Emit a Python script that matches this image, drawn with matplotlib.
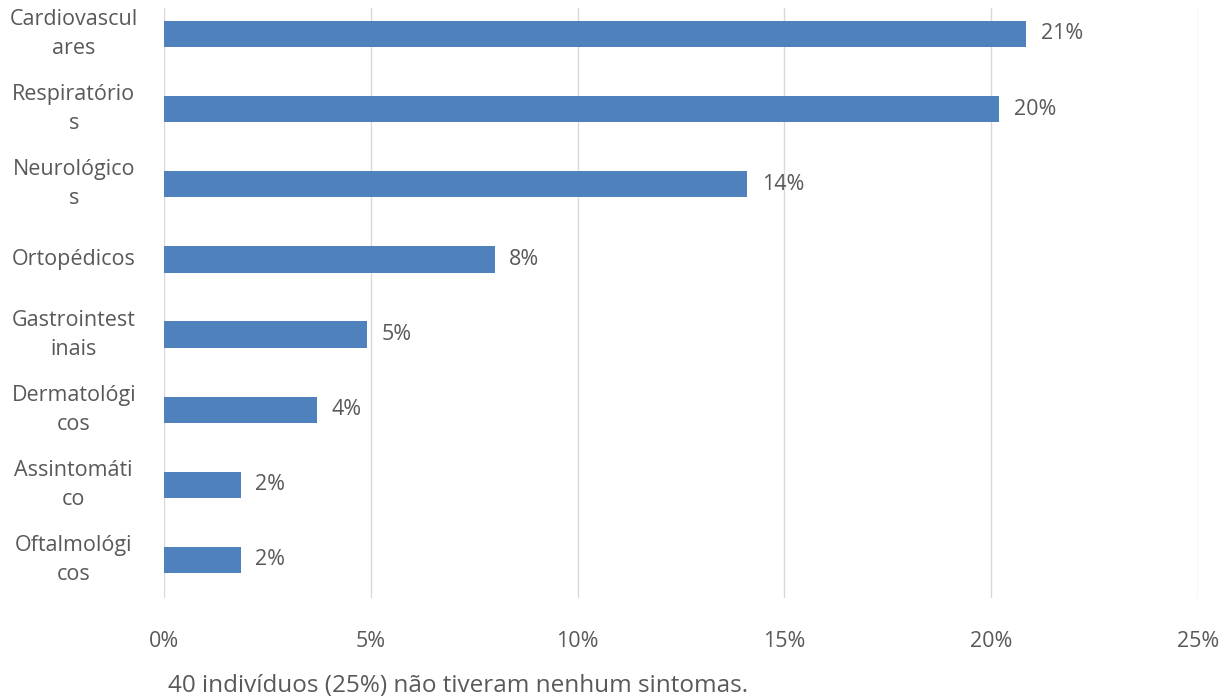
import matplotlib
matplotlib.use('Agg')
import matplotlib.pyplot as plt
import numpy as np

categorias = ['Cardiovascul\nares', 'Respiratório\ns', 'Neurológico\ns', 'Ortopédicos',
              'Gastrointest\ninais', 'Dermatológi\ncos', 'Assintomáti\nco', 'Oftalmológi\ncos']
valores = [20.85, 20.2, 14.1, 8.0, 4.9, 3.7, 1.85, 1.85]
rotulos = ['21%', '20%', '14%', '8%', '5%', '4%', '2%', '2%']
xticks = [0, 5, 10, 15, 20, 25]
nota = '40 indivíduos (25%) não tiveram nenhum sintomas.'

cor_texto = '#595959'
plt.rcParams['font.family'] = ['Open Sans', 'DejaVu Sans']

fig = plt.figure(figsize=(12.32, 7), dpi=100)
ax = fig.add_axes([164 / 1232, 1 - 598 / 700, (1198 - 164) / 1232, 590 / 700])

y = np.arange(len(categorias))[::-1]
ax.barh(y, valores, height=0.35, color='#4F81BD', zorder=3)

for yi, v, r in zip(y, valores, rotulos):
    ax.text(v + 0.35, yi, r, va='center', ha='left', fontsize=15.5, color=cor_texto)

ax.set_xlim(0, 25)
ax.set_ylim(-0.506, 7.346)
ax.set_xticks(xticks)
ax.set_xticklabels([f'{t}%' for t in xticks], fontsize=15.5, color=cor_texto)
ax.set_yticks(y)
ax.set_yticklabels(categorias, fontsize=15.5, color=cor_texto, linespacing=1.5)
for lab in ax.get_yticklabels():
    lab.set_ha('center')
    lab.set_va('center')
    lab.set_multialignment('center')

ax.tick_params(axis='y', length=0, pad=65)
ax.tick_params(axis='x', length=0, pad=24)
ax.grid(axis='x', color='#D9D9D9', linewidth=1, zorder=0)
for s in ['top', 'right', 'bottom', 'left']:
    ax.spines[s].set_visible(False)

fig.text(168 / 1232, 1 - 686 / 700, nota, fontsize=17.5, color=cor_texto, va='center', ha='left')

fig.savefig('out.png', dpi=100)
